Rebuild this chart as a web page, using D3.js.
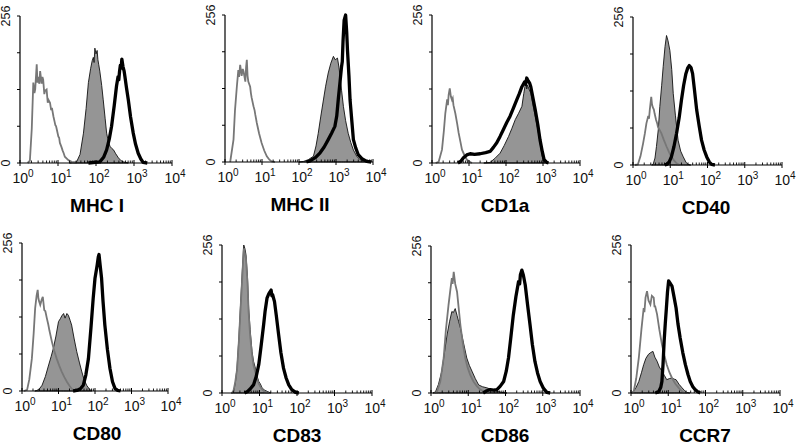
<!DOCTYPE html>
<html><head><meta charset="utf-8">
<script src="https://cdn.jsdelivr.net/npm/d3@7"></script>
<style>body{margin:0;background:#fff}svg{display:block}</style>
</head><body>
<svg id="c" width="800" height="447"></svg>
<script>
// ---- data: x = log10 fluorescence (decade), y = cell count (0-256) ----
const markers = ["MHC I","MHC II","CD1a","CD40","CD80","CD83","CD86","CCR7"];
const decadeTicks = [0,1,2,3,4];
const countTicks = [0,64,128,192,256];
const countLabels = [0,256];

const mhc1Iso = [[0.2,0],[0.26,4],[0.31,60],[0.35,140],[0.38,122],[0.4,128],[0.44,172],[0.46,140],[0.48,150],[0.51,138],[0.53,160],[0.57,138],[0.59,150],[0.61,145],[0.64,120],[0.66,126],[0.7,128],[0.73,105],[0.75,110],[0.79,105],[0.82,92],[0.84,96],[0.88,81],[0.91,72],[0.93,66],[0.95,64],[0.97,58],[1.01,46],[1.03,44],[1.05,35],[1.09,28],[1.12,22],[1.15,17],[1.18,11],[1.27,5],[1.36,2],[1.5,0]];
const mhc1Fill = [[1.3,0],[1.49,2],[1.58,15],[1.67,52],[1.74,95],[1.8,140],[1.86,165],[1.9,178],[1.93,184],[1.95,175],[1.97,200],[2.0,190],[2.03,196],[2.05,180],[2.07,172],[2.1,160],[2.15,135],[2.19,110],[2.24,78],[2.28,52],[2.33,36],[2.37,29],[2.42,25],[2.46,23],[2.52,16],[2.59,9],[2.66,4],[2.72,2],[2.85,0]];
const mhc1Stain = [[1.8,0],[2.1,2],[2.2,10],[2.28,23],[2.35,42],[2.41,64],[2.48,100],[2.54,134],[2.58,150],[2.6,145],[2.62,160],[2.64,170],[2.66,165],[2.68,181],[2.71,168],[2.74,160],[2.76,151],[2.8,132],[2.85,110],[2.91,80],[2.98,52],[3.04,33],[3.11,17],[3.18,7],[3.24,1],[3.35,0]];

const mhc2Iso = [[0.14,0],[0.23,39],[0.27,90],[0.32,131],[0.36,160],[0.38,148],[0.41,169],[0.45,150],[0.48,162],[0.5,158],[0.55,140],[0.57,165],[0.59,178],[0.61,150],[0.63,140],[0.68,131],[0.7,120],[0.72,112],[0.77,97],[0.8,90],[0.82,82],[0.86,68],[0.92,50],[0.99,33],[1.06,20],[1.13,10],[1.2,4],[1.26,1],[1.35,0]];
const mhc2Fill = [[2.0,0],[2.12,1],[2.25,4],[2.39,10],[2.46,28],[2.52,50],[2.59,80],[2.66,108],[2.72,132],[2.79,155],[2.86,172],[2.93,184],[2.98,178],[3.04,181],[3.08,165],[3.11,149],[3.15,125],[3.2,97],[3.26,72],[3.33,50],[3.4,34],[3.47,21],[3.56,10],[3.65,4],[3.83,0]];
const mhc2Stain = [[2.2,0],[2.3,2],[2.45,8],[2.57,16],[2.68,26],[2.79,39],[2.88,50],[2.97,62],[3.02,80],[3.06,108],[3.11,140],[3.15,166],[3.17,175],[3.19,210],[3.22,247],[3.26,256],[3.29,225],[3.31,195],[3.35,150],[3.38,108],[3.43,70],[3.47,39],[3.53,25],[3.6,13],[3.7,6],[3.83,1],[3.95,0]];

const cd1aIso = [[0.1,0],[0.18,2],[0.27,23],[0.32,55],[0.36,86],[0.41,110],[0.43,100],[0.45,118],[0.48,129],[0.51,115],[0.54,109],[0.56,112],[0.58,100],[0.63,86],[0.68,68],[0.72,52],[0.77,36],[0.81,23],[0.88,13],[0.94,6],[1.02,2],[1.08,0]];
const cd1aFill = [[1.4,0],[1.57,1],[1.7,8],[1.84,17],[1.95,30],[2.07,46],[2.16,60],[2.25,75],[2.34,86],[2.43,98],[2.48,120],[2.52,135],[2.54,144],[2.56,128],[2.58,135],[2.62,128],[2.67,121],[2.73,100],[2.79,81],[2.86,58],[2.92,35],[2.97,15],[3.01,2],[3.05,0]];
const cd1aStain = [[0.7,0],[0.78,3],[0.85,9],[0.94,14],[1.03,16],[1.15,15],[1.3,16],[1.45,18],[1.57,20],[1.66,27],[1.75,35],[1.84,46],[1.93,58],[2.02,70],[2.11,81],[2.2,95],[2.29,109],[2.36,120],[2.43,132],[2.5,140],[2.53,136],[2.56,147],[2.6,142],[2.64,138],[2.67,132],[2.73,112],[2.79,92],[2.86,66],[2.92,40],[2.98,20],[3.03,6],[3.1,1],[3.15,0]];

const cd40Iso = [[0.05,0],[0.13,1],[0.2,15],[0.27,37],[0.32,55],[0.36,72],[0.41,85],[0.43,80],[0.45,95],[0.49,118],[0.51,105],[0.53,100],[0.56,96],[0.58,89],[0.62,78],[0.65,72],[0.67,66],[0.72,60],[0.76,55],[0.83,43],[0.9,32],[0.97,22],[1.03,14],[1.1,8],[1.17,3],[1.25,0]];
const cd40Fill = [[0.5,0],[0.54,1],[0.59,12],[0.63,32],[0.68,62],[0.72,101],[0.77,138],[0.81,170],[0.86,205],[0.9,224],[0.94,215],[0.99,198],[1.04,165],[1.08,124],[1.14,85],[1.21,43],[1.28,24],[1.35,14],[1.42,5],[1.48,1],[1.55,0]];
const cd40Stain = [[0.85,0],[0.9,1],[0.97,5],[1.03,14],[1.1,32],[1.17,55],[1.24,82],[1.3,112],[1.36,138],[1.42,158],[1.47,168],[1.51,172],[1.56,168],[1.6,158],[1.65,130],[1.71,95],[1.78,66],[1.84,43],[1.91,26],[1.98,14],[2.05,5],[2.11,1],[2.2,0]];

const cd80Iso = [[0.05,0],[0.14,2],[0.2,20],[0.27,56],[0.32,100],[0.36,143],[0.4,165],[0.43,175],[0.45,160],[0.47,155],[0.5,149],[0.54,158],[0.57,163],[0.61,140],[0.64,138],[0.68,126],[0.72,115],[0.75,105],[0.82,85],[0.88,70],[0.95,56],[1.02,44],[1.09,33],[1.16,24],[1.23,16],[1.3,9],[1.36,4],[1.45,0]];
const cd80Fill = [[0.35,0],[0.41,1],[0.48,4],[0.55,10],[0.64,25],[0.73,45],[0.8,60],[0.86,74],[0.93,95],[1.0,120],[1.05,125],[1.09,130],[1.14,134],[1.18,126],[1.23,134],[1.27,131],[1.32,122],[1.36,114],[1.43,90],[1.5,68],[1.57,50],[1.64,33],[1.7,20],[1.77,10],[1.85,3],[1.91,0]];
const cd80Stain = [[1.4,0],[1.5,1],[1.6,4],[1.68,10],[1.75,28],[1.82,56],[1.89,110],[1.95,160],[2.0,195],[2.04,210],[2.06,218],[2.09,232],[2.11,236],[2.14,218],[2.18,195],[2.22,155],[2.27,114],[2.34,72],[2.41,39],[2.48,16],[2.55,4],[2.62,1],[2.7,0]];

const cd83Iso = [[0.25,0],[0.3,2],[0.35,18],[0.4,40],[0.45,90],[0.49,140],[0.54,200],[0.58,250],[0.61,240],[0.64,232],[0.68,190],[0.71,140],[0.75,100],[0.8,66],[0.84,48],[0.89,36],[0.93,26],[0.98,16],[1.05,8],[1.12,3],[1.25,0]];
const cd83Fill = [[0.25,0],[0.31,2],[0.36,20],[0.4,43],[0.45,95],[0.49,147],[0.54,210],[0.58,256],[0.61,250],[0.64,239],[0.68,200],[0.71,147],[0.75,110],[0.8,72],[0.84,55],[0.89,43],[0.93,30],[0.98,20],[1.02,16],[1.07,9],[1.13,5],[1.2,3],[1.3,0]];
const cd83Stain = [[0.6,0],[0.67,2],[0.75,7],[0.84,14],[0.91,28],[0.98,49],[1.04,80],[1.11,118],[1.15,142],[1.2,164],[1.25,172],[1.28,175],[1.31,178],[1.33,168],[1.35,170],[1.4,158],[1.45,133],[1.51,101],[1.57,70],[1.64,43],[1.71,26],[1.78,14],[1.86,6],[1.96,1],[2.05,0]];

const cd86Iso = [[0.1,0],[0.16,2],[0.25,20],[0.34,61],[0.4,110],[0.47,153],[0.52,180],[0.56,200],[0.58,190],[0.61,211],[0.65,190],[0.7,176],[0.74,150],[0.79,118],[0.85,88],[0.92,61],[0.98,45],[1.05,32],[1.14,20],[1.23,12],[1.32,6],[1.41,3],[1.55,0]];
const cd86Fill = [[0.05,0],[0.12,2],[0.2,15],[0.29,38],[0.36,70],[0.43,101],[0.5,125],[0.56,142],[0.6,140],[0.65,147],[0.7,135],[0.74,125],[0.79,113],[0.87,88],[0.96,61],[1.03,48],[1.1,38],[1.19,25],[1.28,14],[1.38,11],[1.5,9],[1.63,6],[1.77,3],[1.9,1],[2.04,0]];
const cd86Stain = [[1.4,0],[1.5,4],[1.59,6],[1.68,5],[1.77,6],[1.86,12],[1.95,20],[2.02,38],[2.08,61],[2.14,95],[2.21,136],[2.28,168],[2.35,194],[2.38,190],[2.4,206],[2.44,214],[2.48,205],[2.53,188],[2.59,155],[2.66,118],[2.72,85],[2.79,55],[2.86,35],[2.93,20],[3.02,8],[3.11,1],[3.2,0]];

const ccr7Iso = [[0.02,0],[0.07,2],[0.14,25],[0.21,61],[0.28,110],[0.34,147],[0.36,140],[0.39,165],[0.43,176],[0.47,160],[0.52,153],[0.56,168],[0.61,165],[0.63,150],[0.65,150],[0.7,136],[0.76,110],[0.83,84],[0.9,64],[0.96,49],[1.03,36],[1.1,26],[1.19,16],[1.28,9],[1.35,4],[1.41,1],[1.5,0]];
const ccr7Fill = [[0.0,0],[0.07,3],[0.14,10],[0.21,20],[0.28,35],[0.34,49],[0.4,60],[0.47,67],[0.53,70],[0.59,72],[0.64,62],[0.7,55],[0.76,45],[0.83,38],[0.9,30],[0.96,23],[1.03,25],[1.1,26],[1.16,24],[1.21,23],[1.29,15],[1.37,9],[1.44,4],[1.5,1],[1.58,0]];
const ccr7Stain = [[0.65,0],[0.74,2],[0.8,10],[0.83,20],[0.86,50],[0.89,90],[0.92,120],[0.95,147],[0.98,175],[1.01,194],[1.05,190],[1.1,185],[1.15,168],[1.21,147],[1.26,120],[1.32,95],[1.39,70],[1.46,49],[1.53,32],[1.59,20],[1.66,11],[1.72,6],[1.79,2],[1.86,0]];

const isoSeries = [mhc1Iso,mhc2Iso,cd1aIso,cd40Iso,cd80Iso,cd83Iso,cd86Iso,ccr7Iso];
const fillSeries = [mhc1Fill,mhc2Fill,cd1aFill,cd40Fill,cd80Fill,cd83Fill,cd86Fill,ccr7Fill];
const stainSeries = [mhc1Stain,mhc2Stain,cd1aStain,cd40Stain,cd80Stain,cd83Stain,cd86Stain,ccr7Stain];

// ---- layout (axis origin x, axis right x, top y, baseline y) ----
const frames = [
  [20,172,16,163],[225,373,15,162],[432,580,15,163],[633,782,17,165],
  [22,168,243,391],[222,372,245,393],[431,580,246,393],[631,780,245,393]
];
const labelX = [97,300,505,706,97,297,505,705];

const svg = d3.select("#c");
const FONT = "Liberation Sans, Arial, Helvetica, sans-serif";

markers.forEach((name,i)=>{
  const [x0,x1,y0,y1] = frames[i];
  const x = d3.scaleLog().domain([1,1e4]).range([x0,x1]);
  const y = d3.scaleLinear().domain([0,256]).range([y1,y0]);
  const px = d => x(Math.pow(10,d[0]));
  const py = d => y(d[1]);
  const g = svg.append("g");

  // filled (gray) histogram
  g.append("path").datum(fillSeries[i])
    .attr("d", d3.area().x(px).y0(y(0)).y1(py))
    .attr("fill","#959595").attr("stroke","#111").attr("stroke-width",0.9);
  // isotype control (thin gray line)
  g.append("path").datum(isoSeries[i])
    .attr("d", d3.line().x(px).y(py))
    .attr("fill","none").attr("stroke","#777").attr("stroke-width",1.8);
  // stained (thick black line)
  g.append("path").datum(stainSeries[i])
    .attr("d", d3.line().x(px).y(py))
    .attr("fill","none").attr("stroke","#000").attr("stroke-width",3.3)
    .attr("stroke-linejoin","round");

  // axes
  g.append("line").attr("x1",x0).attr("x2",x0).attr("y1",y0).attr("y2",y1)
    .attr("stroke","#000").attr("stroke-width",1.2);
  g.append("line").attr("x1",x0).attr("x2",x1).attr("y1",y1).attr("y2",y1)
    .attr("stroke","#000").attr("stroke-width",1.2);
  // y ticks
  countTicks.forEach(t=>{
    g.append("line").attr("x1",x0-3).attr("x2",x0).attr("y1",y(t)).attr("y2",y(t))
      .attr("stroke","#000").attr("stroke-width",1);
  });
  countLabels.forEach(t=>{
    g.append("text").attr("transform",`translate(${x0-10},${y(t)}) rotate(-90)`)
      .attr("text-anchor","middle")
      .attr("font-family",FONT).attr("font-size",12.5).attr("fill","#111")
      .text(t);
  });
  // x minor ticks
  const minors = [];
  for (let dIdx=0; dIdx<decadeTicks.length-1; dIdx++){
    for (let m=2;m<=9;m++) minors.push(m*Math.pow(10,decadeTicks[dIdx]));
  }
  minors.forEach(v=>{
    g.append("line").attr("x1",x(v)).attr("x2",x(v)).attr("y1",y1-2.5).attr("y2",y1)
      .attr("stroke","#000").attr("stroke-width",0.9);
  });
  decadeTicks.forEach(k=>{
    const xv = x(Math.pow(10,k));
    g.append("line").attr("x1",xv).attr("x2",xv).attr("y1",y1-3).attr("y2",y1+3)
      .attr("stroke","#000").attr("stroke-width",1);
    const t = g.append("text").attr("x",xv-7.5).attr("y",y1+20)
      .attr("text-anchor","start").attr("font-family",FONT)
      .attr("font-size",14).attr("fill","#111");
    t.append("tspan").text("10");
    t.append("tspan").attr("dy",-6).attr("font-size",10).text(k);
  });
  // marker label
  g.append("text").attr("x",labelX[i]).attr("y",y1 + 49)
    .attr("text-anchor","middle").attr("font-family",FONT)
    .attr("font-weight","bold").attr("font-size",19).attr("fill","#000")
    .text(name);
});
</script>
</body></html>
